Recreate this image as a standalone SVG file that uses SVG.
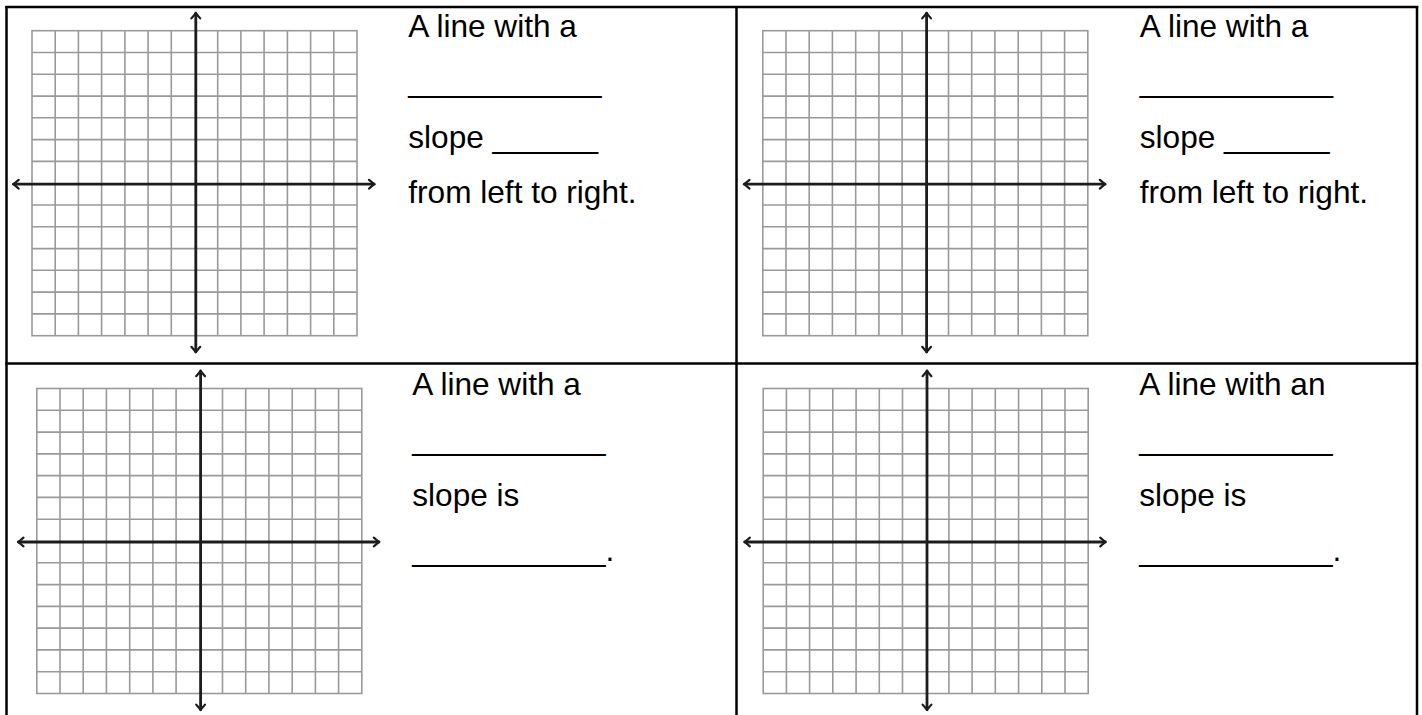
<svg xmlns="http://www.w3.org/2000/svg" xmlns:xlink="http://www.w3.org/1999/xlink" width="1422" height="715" viewBox="0 0 1422 715">
<style>
.bg{fill:#ffffff}
.rule{stroke:#000;stroke-width:2.5;fill:none}
.gl{stroke:#9a9a9a;stroke-width:1.6;fill:none}
.ax{stroke:#1c1c1c;stroke-width:2.8;fill:none;stroke-linecap:round}
.ah{stroke:#1c1c1c;stroke-width:2.2;fill:none;stroke-linecap:round;stroke-linejoin:round}
.t{font-family:"Liberation Sans",Arial,sans-serif;font-size:31.6px;fill:#000}
</style>
<defs>
<g id="grid">
<rect x="0" y="0" width="325" height="305" class="gl"/>
<path class="gl" d="M23.2,0V305M46.4,0V305M69.6,0V305M92.9,0V305M116.1,0V305M139.3,0V305M185.7,0V305M208.9,0V305M232.1,0V305M255.4,0V305M278.6,0V305M301.8,0V305"/>
<path class="gl" d="M0,21.8H325M0,43.6H325M0,65.4H325M0,87.1H325M0,108.9H325M0,130.7H325M0,174.3H325M0,196.1H325M0,217.9H325M0,239.6H325M0,261.4H325M0,283.2H325"/>
<line class="ax" x1="163.8" y1="-17.5" x2="163.8" y2="321.3"/>
<line class="ax" x1="-18.5" y1="153.5" x2="342.2" y2="153.5"/>
<path class="ah" d="M159.4,-12.3L163.8,-17.5L168.2,-12.3"/>
<path class="ah" d="M159.4,316.1L163.8,321.3L168.2,316.1"/>
<path class="ah" d="M-13.3,149.1L-18.5,153.5L-13.3,157.9"/>
<path class="ah" d="M337,149.1L342.2,153.5L337,157.9"/>
</g>
</defs>
<rect class="bg" x="0" y="0" width="1422" height="715"/>
<g id="connectors">
<line class="rule" x1="5.3" y1="7" x2="1418.2" y2="7"/>
<line class="rule" x1="6.5" y1="6" x2="6.5" y2="715"/>
<line class="rule" x1="736.5" y1="6" x2="736.5" y2="715"/>
<line class="rule" x1="1417" y1="6" x2="1417" y2="715"/>
<line class="rule" x1="5.3" y1="363.5" x2="1418.2" y2="363.5"/>
</g>
<g id="cell-top-left">
<use xlink:href="#grid" href="#grid" transform="translate(32,30.7)"/>
<text class="t" x="408.3" y="36.7">A line with a</text>
<text class="t" x="408.3" y="92.1">___________</text>
<text class="t" x="408.3" y="147.5">slope ______</text>
<text class="t" x="408.3" y="202.9">from left to right.</text>
</g>
<g id="cell-top-right">
<use xlink:href="#grid" href="#grid" transform="translate(762.8,30.7)"/>
<text class="t" x="1139.8" y="36.7">A line with a</text>
<text class="t" x="1139.8" y="92.1">___________</text>
<text class="t" x="1139.8" y="147.5">slope ______</text>
<text class="t" x="1139.8" y="202.9">from left to right.</text>
</g>
<g id="cell-bottom-left">
<use xlink:href="#grid" href="#grid" transform="translate(36.8,388.5)"/>
<text class="t" x="412.3" y="395">A line with a</text>
<text class="t" x="412.3" y="450.3">___________</text>
<text class="t" x="412.3" y="505.6">slope is</text>
<text class="t" x="412.3" y="560.9">___________.</text>
</g>
<g id="cell-bottom-right">
<use xlink:href="#grid" href="#grid" transform="translate(763.2,388.5)"/>
<text class="t" x="1139.3" y="395">A line with an</text>
<text class="t" x="1139.3" y="450.3">___________</text>
<text class="t" x="1139.3" y="505.6">slope is</text>
<text class="t" x="1139.3" y="560.9">___________.</text>
</g>
</svg>
